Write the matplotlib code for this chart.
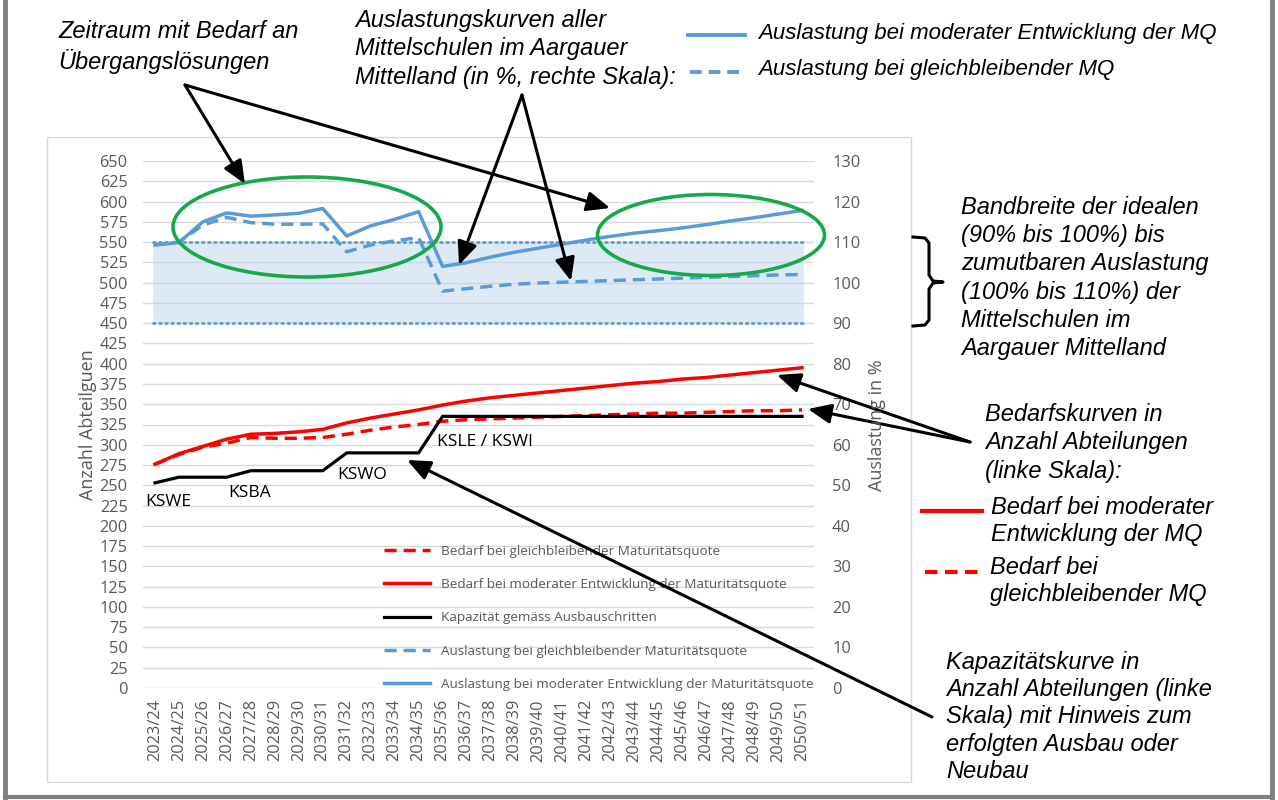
import matplotlib
matplotlib.use("Agg")
import matplotlib.pyplot as plt
from matplotlib.patches import Ellipse, FancyArrowPatch, Rectangle
from matplotlib.lines import Line2D

plt.rcParams['font.family'] = ['Open Sans', 'DejaVu Sans']

# school years on the category axis
jahre = ['2023/24', '2024/25', '2025/26', '2026/27', '2027/28', '2028/29', '2029/30',
         '2030/31', '2031/32', '2032/33', '2033/34', '2034/35', '2035/36', '2036/37',
         '2037/38', '2038/39', '2039/40', '2040/41', '2041/42', '2042/43', '2043/44',
         '2044/45', '2045/46', '2046/47', '2047/48', '2048/49', '2049/50', '2050/51']

# Abteilungen (left scale)
kapazitaet = [253, 260, 260, 260, 268, 268, 268, 268, 290, 290, 290, 290,
              335, 335, 335, 335, 335, 335, 335, 335, 335, 335, 335, 335, 335, 335, 335, 335]
bedarf_moderat = [276, 289, 298, 307, 313, 314, 316, 319, 327, 333, 338, 343,
                  349, 354, 358, 361, 364, 367, 370, 373, 376, 378, 381, 383, 386, 389, 392, 395]
bedarf_konstant = [276, 288, 297, 302, 309, 308, 308, 309, 313, 318, 322, 325,
                   329, 331, 332, 333, 334, 335, 336, 337, 338, 339, 339, 340, 341, 342, 342, 343]

# Auslastung in % (right scale)
auslastung_moderat = [109.3, 109.9, 115.0, 117.2, 116.4, 116.7, 117.1, 118.3, 111.5, 114.0, 115.6, 117.5,
                      104.0, 104.9, 106.3, 107.5, 108.5, 109.5, 110.5, 111.4, 112.2, 112.8, 113.5, 114.3,
                      115.2, 116.0, 116.9, 117.8]
auslastung_konstant = [109.3, 110.0, 114.2, 116.1, 114.8, 114.4, 114.4, 114.5, 107.6, 109.3, 110.3, 111.1,
                       97.9, 98.5, 99.1, 99.6, 99.9, 100.1, 100.3, 100.5, 100.7, 100.9, 101.1, 101.3,
                       101.5, 101.7, 101.9, 102.0]

band_unten = 90
band_oben = 110

# building steps written next to the capacity line: (label, x index, y value)
ausbau = [('KSWE', -0.4, 230), ('KSBA', 3.05, 241), ('KSWO', 7.6, 263), ('KSLE / KSWI', 11.75, 304)]

W, H = 1278, 800
BLAU = '#5B9BD5'
ROT = '#FF0000'
GRAU = '#595959'


def fx(x):
    return x / W


def fy(y):
    return 1 - y / H


fig = plt.figure(figsize=(W / 100, H / 100), dpi=100)

# frame of the slide and of the chart object
fig.add_artist(Line2D([fx(5), fx(5)], [fy(0), fy(797)], color='#7F7F7F', lw=3.5))
fig.add_artist(Line2D([fx(1272), fx(1272)], [fy(0), fy(797)], color='#7F7F7F', lw=3.5))
fig.add_artist(Line2D([fx(5), fx(1272)], [fy(797), fy(797)], color='#7F7F7F', lw=3))
fig.add_artist(Rectangle((fx(47), fy(782)), fx(911 - 47), (782 - 137) / H, transform=fig.transFigure,
                         fill=False, ec='#D9D9D9', lw=1))

ax = fig.add_axes([fx(143), fy(688), fx(814 - 143), (688 - 161) / H])
x = list(range(len(jahre)))
ax.set_xlim(-0.5, len(jahre) - 0.5)
ax.set_ylim(0, 650)
ax.set_yticks(range(0, 651, 25))
ax.set_xticks(x)
ax.set_xticklabels(jahre, rotation=90, fontsize=11.5, color=GRAU)
ax.grid(axis='y', color='#D9D9D9', lw=1)
ax.set_axisbelow(True)
ax.tick_params(length=0, labelsize=11.8, labelcolor=GRAU)
ax.tick_params(axis='y', pad=11)
ax.tick_params(axis='x', pad=8)
for s in ax.spines.values():
    s.set_visible(False)

ax2 = ax.twinx()
ax2.set_ylim(0, 130)
ax2.set_yticks(range(0, 131, 10))
ax2.tick_params(length=0, labelsize=11.8, labelcolor=GRAU, pad=13)
for s in ax2.spines.values():
    s.set_visible(False)

# band of ideal / acceptable utilisation
ax2.fill_between([-0.1, len(jahre) - 0.9], band_unten, band_oben, color='#BDD7EE', alpha=0.5, lw=0, zorder=1)
for v in (band_unten, band_oben):
    ax2.plot([-0.1, len(jahre) - 0.9], [v, v], color=BLAU, lw=2, ls=(0, (0.6, 1.6)),
             dash_capstyle='round', zorder=2)

l_bk, = ax.plot(x, bedarf_konstant, color=ROT, lw=2.5, dashes=(3.5, 2), zorder=3,
                label='Bedarf bei gleichbleibender Maturitätsquote')
l_bm, = ax.plot(x, bedarf_moderat, color=ROT, lw=2.5, solid_joinstyle='round', zorder=3,
                label='Bedarf bei moderater Entwicklung der Maturitätsquote')
l_ka, = ax.plot(x, kapazitaet, color='black', lw=2.3, solid_joinstyle='round', zorder=3,
                label='Kapazität gemäss Ausbauschritten')
l_ak, = ax2.plot(x, auslastung_konstant, color=BLAU, lw=2.5, dashes=(3.5, 2), zorder=3,
                 label='Auslastung bei gleichbleibender Maturitätsquote')
l_am, = ax2.plot(x, auslastung_moderat, color=BLAU, lw=2.5, solid_joinstyle='round', zorder=3,
                 label='Auslastung bei moderater Entwicklung der Maturitätsquote')

for name, xi, yi in ausbau:
    ax.text(xi, yi, name, fontsize=12.5, color='black', va='center', ha='left')

ax2.legend(handles=[l_bk, l_bm, l_ka, l_ak, l_am], loc='upper left',
           bbox_to_anchor=(fx(384), fy(545)), bbox_transform=fig.transFigure,
           frameon=False, fontsize=9.7, labelcolor=GRAU, handlelength=3.4,
           handletextpad=0.8, labelspacing=1.5, borderpad=0, borderaxespad=0)

fig.text(fx(88), fy(425), 'Anzahl Abteilguen', rotation=90, ha='center', va='center',
         fontsize=13, color=GRAU)
fig.text(fx(877), fy(425), 'Auslastung in %', rotation=90, ha='center', va='center',
         fontsize=13, color=GRAU)

# explanatory notes around the chart
notiz = dict(family=['Liberation Sans', 'DejaVu Sans'], style='italic', color='black', va='center', ha='left')
fig.text(fx(58), fy(47), 'Zeitraum mit Bedarf an\nÜbergangslösungen', fontsize=17, linespacing=1.25, **notiz)
fig.text(fx(355), fy(49), 'Auslastungskurven aller\nMittelschulen im Aargauer\nMittelland (in %, rechte Skala):',
         fontsize=17, linespacing=1.28, **notiz)
fig.text(fx(758), fy(33), 'Auslastung bei moderater Entwicklung der MQ', fontsize=16, **notiz)
fig.text(fx(758), fy(70), 'Auslastung bei gleichbleibender MQ', fontsize=16, **notiz)
fig.text(fx(961), fy(278), 'Bandbreite der idealen\n(90% bis 100%) bis\nzumutbaren Auslastung\n'
         '(100% bis 110%) der\nMittelschulen im\nAargauer Mittelland', fontsize=17, linespacing=1.28, **notiz)
fig.text(fx(985), fy(443), 'Bedarfskurven in\nAnzahl Abteilungen\n(linke Skala):', fontsize=17,
         linespacing=1.28, **notiz)
fig.text(fx(991), fy(521), 'Bedarf bei moderater\nEntwicklung der MQ', fontsize=17, linespacing=1.2, **notiz)
fig.text(fx(990), fy(581), 'Bedarf bei\ngleichbleibender MQ', fontsize=17, linespacing=1.2, **notiz)
fig.text(fx(946), fy(717), 'Kapazitätskurve in\nAnzahl Abteilungen (linke\nSkala) mit Hinweis zum\n'
         'erfolgten Ausbau oder\nNeubau', fontsize=17, linespacing=1.25, **notiz)

# key lines of the notes
fig.add_artist(Line2D([fx(688), fx(745)], [fy(35), fy(35)], color=BLAU, lw=2.8))
fig.add_artist(Line2D([fx(690), fx(745)], [fy(72), fy(72)], color=BLAU, lw=2.8, dashes=(3, 1.8)))
fig.add_artist(Line2D([fx(922), fx(982)], [fy(511), fy(511)], color=ROT, lw=3))
fig.add_artist(Line2D([fx(925), fx(982)], [fy(572), fy(572)], color=ROT, lw=3, dashes=(3, 1.8)))

# green ellipses
fig.add_artist(Ellipse((fx(307), fy(227)), fx(268), 100 / H, transform=fig.transFigure,
                       fill=False, ec='#16A94B', lw=2.6))
fig.add_artist(Ellipse((fx(711), fy(235)), fx(227), 81 / H, transform=fig.transFigure,
                       fill=False, ec='#16A94B', lw=2.6))


def pfeil(a, b):
    fig.add_artist(FancyArrowPatch((fx(a[0]), fy(a[1])), (fx(b[0]), fy(b[1])),
                                   transform=fig.transFigure, arrowstyle='-|>,head_length=0.7,head_width=0.3',
                                   mutation_scale=20, lw=2.2, color='black', shrinkA=0, shrinkB=0))


pfeil((185, 85), (245, 184))
pfeil((185, 85), (610, 208))
pfeil((522, 95), (459, 265))
pfeil((522, 95), (571, 281))
pfeil((970, 442), (777, 375))
pfeil((970, 442), (808, 409))
pfeil((932, 717), (407, 460))

# curly bracket beside the band note
kl_x = [913, 925, 929, 929, 933, 943, 933, 929, 929, 925, 913]
kl_y = [237, 238, 243, 275, 281, 282, 283, 289, 320, 325, 326]
fig.add_artist(Line2D([fx(v) for v in kl_x], [fy(v) for v in kl_y], color='black', lw=2.2,
                      solid_joinstyle='round'))

fig.savefig('out.png', dpi=100)
